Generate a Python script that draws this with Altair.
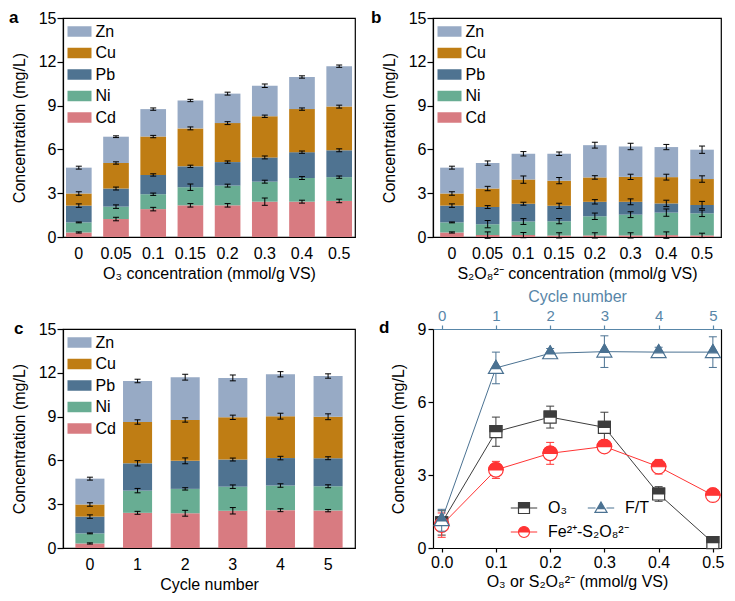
import altair as alt
import pandas as pd

FONT = "Liberation Sans"

# ---------------- stacked bar data (cumulative stack tops, mg/L) ----------------
METALS_LEGEND = ["Zn", "Cu", "Pb", "Ni", "Cd"]
METALS_STACK = ["Cd", "Ni", "Pb", "Cu", "Zn"]
METAL_COLORS = ["#97aac5", "#bf7d14", "#4f7391", "#68ad93", "#d87b81"]

# panel a : O3
a_cats = ["0", "0.05", "0.1", "0.15", "0.2", "0.3", "0.4", "0.5"]
a_Cd = [0.31, 1.23, 1.91, 2.17, 2.17, 2.42, 2.42, 2.47]
a_Ni = [1.00, 2.08, 2.93, 3.41, 3.52, 3.79, 4.04, 4.10]
a_Pb = [2.15, 3.32, 4.25, 4.84, 5.13, 5.45, 5.81, 5.94]
a_Cu = [2.98, 5.07, 6.88, 7.44, 7.80, 8.27, 8.76, 8.93]
a_Zn = [4.75, 6.87, 8.76, 9.35, 9.82, 10.36, 10.96, 11.70]
a_eCd = [0.04, 0.12, 0.12, 0.12, 0.12, 0.25, 0.10, 0.12]
a_eNi = [0.03, 0.12, 0.08, 0.22, 0.10, 0.10, 0.10, 0.08]
a_ePb = [0.12, 0.10, 0.08, 0.08, 0.08, 0.10, 0.08, 0.10]
a_eCu = [0.12, 0.08, 0.08, 0.10, 0.10, 0.08, 0.08, 0.10]
a_eZn = [0.10, 0.06, 0.08, 0.08, 0.10, 0.12, 0.08, 0.08]

# panel b : S2O8 2-
b_cats = ["0", "0.05", "0.1", "0.15", "0.2", "0.3", "0.4", "0.5"]
b_Cd = [0.31, 0.13, 0.13, 0.11, 0.11, 0.11, 0.13, 0.11]
b_Ni = [1.00, 0.88, 1.06, 1.08, 1.42, 1.53, 1.67, 1.62]
b_Pb = [2.15, 2.05, 2.28, 2.14, 2.41, 2.41, 2.30, 2.19]
b_Cu = [2.98, 3.32, 3.93, 3.86, 4.08, 4.12, 4.10, 3.97]
b_Zn = [4.75, 5.06, 5.70, 5.70, 6.29, 6.20, 6.16, 5.98]
b_eCd = [0.04, 0.22, 0.18, 0.18, 0.18, 0.18, 0.22, 0.15]
b_eNi = [0.03, 0.25, 0.20, 0.18, 0.22, 0.20, 0.25, 0.22]
b_ePb = [0.12, 0.10, 0.10, 0.18, 0.15, 0.20, 0.22, 0.25]
b_eCu = [0.12, 0.15, 0.25, 0.22, 0.12, 0.18, 0.20, 0.22]
b_eZn = [0.10, 0.15, 0.15, 0.12, 0.20, 0.22, 0.18, 0.25]

# panel c : F/T cycles
c_cats = ["0", "1", "2", "3", "4", "5"]
c_Cd = [0.31, 2.41, 2.38, 2.55, 2.59, 2.56]
c_Ni = [1.00, 3.93, 4.05, 4.20, 4.28, 4.23]
c_Pb = [2.15, 5.80, 5.97, 6.06, 6.16, 6.15]
c_Cu = [2.98, 8.63, 8.77, 8.95, 9.03, 8.99]
c_Zn = [4.75, 11.44, 11.70, 11.65, 11.90, 11.78]
c_eCd = [0.04, 0.10, 0.20, 0.22, 0.10, 0.08]
c_eNi = [0.03, 0.15, 0.08, 0.12, 0.12, 0.10]
c_ePb = [0.12, 0.18, 0.20, 0.10, 0.12, 0.10]
c_eCu = [0.12, 0.15, 0.15, 0.15, 0.20, 0.20]
c_eZn = [0.10, 0.12, 0.20, 0.20, 0.18, 0.15]

# ---------------- panel d line data ----------------
d_conc = [0.0, 0.1, 0.2, 0.3, 0.4, 0.5]
d_o3 = [1.03, 4.78, 5.38, 4.96, 2.22, 0.22]
d_o3_err = [0.50, 0.60, 0.45, 0.62, 0.30, 0.20]
d_fe = [0.94, 3.21, 3.89, 4.17, 3.34, 2.17]
d_fe_err = [0.50, 0.35, 0.45, 0.15, 0.30, 0.08]
d_cycle = [0, 1, 2, 3, 4, 5]
d_ft = [1.14, 7.40, 8.00, 8.07, 8.05, 8.05]
d_ft_err = [0.45, 0.65, 0.20, 0.65, 0.20, 0.63]

SERIES = ["O₃", "F/T", "Fe²⁺-S₂O₈²⁻"]
SER_COLORS = ["#3d3d3d", "#4b7292", "#ff3434"]
BLUE = "#5886a8"

# marker paths (unit coordinates)
SQ_FULL = "M-1,-1L1,-1L1,1L-1,1Z"
SQ_TOP = "M-1,-1L1,-1L1,0L-1,0Z"
SQ_BOT = "M-1,0L-1,1L1,1L1,0L1,1L-1,1Z"
TR_FULL = "M0,-1.1L1.1,0.8L-1.1,0.8Z"
TR_TOP = "M0,-1.1L0.695,0.1L-0.695,0.1Z"
TR_BOT = "M-0.695,0.1L-1.1,0.8L1.1,0.8L0.695,0.1L1.1,0.8L-1.1,0.8Z"
CI_FULL = "M-1,0A1,1,0,0,1,1,0A1,1,0,0,1,-1,0Z"
CI_TOP = "M-1,0A1,1,0,0,1,1,0Z"
CI_BOT = "M-1,0A1,1,0,0,0,1,0A1,1,0,0,1,-1,0Z"
STUBS = "M-2.4,0L-1,0M1,0L2.4,0"
LEG_SHAPES = [STUBS + SQ_TOP + SQ_BOT, STUBS + TR_TOP + TR_BOT, STUBS + CI_TOP + CI_BOT]


def bar_df(cats, tops, errs):
    rows = []
    for i, c in enumerate(cats):
        prev = 0.0
        for m in METALS_STACK:
            hi = tops[m][i]
            e = errs[m][i]
            rows.append(dict(cat=c, metal=m, lo=prev, hi=hi, elo=hi - e, ehi=hi + e))
            prev = hi
    return pd.DataFrame(rows)


def letter_layer(letter, lx, ly):
    return alt.Chart(pd.DataFrame({"t": [letter]})).mark_text(
        font=FONT, fontSize=17, fontWeight="bold", align="left", baseline="alphabetic", color="black"
    ).encode(x=alt.value(lx), y=alt.value(ly), text="t:N")


def bar_panel(df, cats, xtitle, w, h, pin, pout, letter, lx):
    xenc = alt.X("cat:N", sort=cats,
                 scale=alt.Scale(paddingInner=pin, paddingOuter=pout),
                 axis=alt.Axis(title=xtitle, labelAngle=0, ticks=False, labelPadding=8, titlePadding=4))
    yscale = alt.Scale(domain=[0, 15], nice=False, zero=False)
    yaxis = alt.Axis(values=[0, 3, 6, 9, 12, 15], title="Concentration (mg/L)",
                     tickSize=6, labelPadding=1, titlePadding=11)
    leg = alt.Legend(title=None, orient="none", legendX=8.5, legendY=5.5,
                     symbolType="M-1.6,-0.7L1.6,-0.7L1.6,0.7L-1.6,0.7Z", symbolSize=225,
                     symbolStrokeWidth=0, labelFont=FONT, labelFontSize=16, labelColor="black",
                     labelOffset=8, rowPadding=5.5, padding=0)
    base = alt.Chart(df)
    bars = base.mark_bar(opacity=1).encode(
        x=xenc,
        y=alt.Y("lo:Q", scale=yscale, axis=yaxis),
        y2="hi:Q",
        color=alt.Color("metal:N", scale=alt.Scale(domain=METALS_LEGEND, range=METAL_COLORS), legend=leg),
    )
    rules = base.mark_rule(color="black", strokeWidth=1).encode(
        x=xenc, y=alt.Y("elo:Q", scale=yscale, axis=yaxis), y2="ehi:Q")
    cap_lo = base.mark_tick(color="black", size=6, thickness=1, opacity=1).encode(
        x=xenc, y=alt.Y("elo:Q", scale=yscale, axis=yaxis))
    cap_hi = base.mark_tick(color="black", size=6, thickness=1, opacity=1).encode(
        x=xenc, y=alt.Y("ehi:Q", scale=yscale, axis=yaxis))
    return alt.layer(bars, rules, cap_lo, cap_hi, letter_layer(letter, lx, 5)).properties(width=w, height=h)


df_a = bar_df(a_cats, dict(Cd=a_Cd, Ni=a_Ni, Pb=a_Pb, Cu=a_Cu, Zn=a_Zn),
              dict(Cd=a_eCd, Ni=a_eNi, Pb=a_ePb, Cu=a_eCu, Zn=a_eZn))
df_b = bar_df(b_cats, dict(Cd=b_Cd, Ni=b_Ni, Pb=b_Pb, Cu=b_Cu, Zn=b_Zn),
              dict(Cd=b_eCd, Ni=b_eNi, Pb=b_ePb, Cu=b_eCu, Zn=b_eZn))
df_c = bar_df(c_cats, dict(Cd=c_Cd, Ni=c_Ni, Pb=c_Pb, Cu=c_Cu, Zn=c_Zn),
              dict(Cd=c_eCd, Ni=c_eNi, Pb=c_ePb, Cu=c_eCu, Zn=c_eZn))

W1, W2, H = 292, 288, 219

panel_a = bar_panel(df_a, a_cats, "O₃ concentration (mmol/g VS)", W1, H, 0.31, 0.08, "a", -54)
panel_b = bar_panel(df_b, b_cats, "S₂O₈²⁻ concentration (mmol/g VS)", W2, H, 0.34, 0.2, "b", -62)
panel_c = bar_panel(df_c, c_cats, "Cycle number", W1, H, 0.39, 0.26, "c", -49)

# ---------------- panel d ----------------
ydom = alt.Scale(domain=[0, 9], nice=False, zero=False)
yaxis_left = alt.Axis(values=[0, 3, 6, 9], title="Concentration (mg/L)", tickSize=5,
                      labelPadding=2, titlePadding=11)
yaxis_right = alt.Axis(orient="right", labels=False, ticks=False, title=None, domainColor="black")

xb_enc = alt.X("x:Q", scale=alt.Scale(domain=[-0.016, 0.515], nice=False, zero=False),
               axis=alt.Axis(values=d_conc, format=".1f", title="O₃ or S₂O₈²⁻ (mmol/g VS)",
                             tickSize=4, labelPadding=2, titlePadding=3))
xt_enc = alt.X("x:Q", scale=alt.Scale(domain=[-0.16, 5.15], nice=False, zero=False),
               axis=alt.Axis(orient="top", values=d_cycle, format="d", title="Cycle number",
                             domainColor=BLUE, tickColor=BLUE, labelColor=BLUE, titleColor=BLUE,
                             labelFontSize=15, tickSize=4, labelPadding=2, titlePadding=4))


def series_layers(xs, ys, es, xenc, yaxis, color, full, top, size):
    df = pd.DataFrame({"x": xs, "y": ys, "lo": [y - e for y, e in zip(ys, es)],
                       "hi": [y + e for y, e in zip(ys, es)]})
    base = alt.Chart(df)
    yenc = alt.Y("y:Q", scale=ydom, axis=yaxis)
    line = base.mark_line(color=color, strokeWidth=1).encode(x=xenc, y=yenc)
    rule = base.mark_rule(color=color, strokeWidth=1).encode(
        x=xenc, y=alt.Y("lo:Q", scale=ydom, axis=yaxis), y2="hi:Q")
    cap_lo = base.mark_tick(color=color, orient="horizontal", size=8, thickness=1, opacity=1).encode(
        x=xenc, y=alt.Y("lo:Q", scale=ydom, axis=yaxis))
    cap_hi = base.mark_tick(color=color, orient="horizontal", size=8, thickness=1, opacity=1).encode(
        x=xenc, y=alt.Y("hi:Q", scale=ydom, axis=yaxis))
    bg = base.mark_point(shape=full, size=size, filled=True, fill="white", stroke=color,
                         strokeWidth=1.2, opacity=1).encode(x=xenc, y=yenc)
    fg = base.mark_point(shape=top, size=size, filled=True, fill=color, stroke=color,
                         strokeWidth=1.2, opacity=1).encode(x=xenc, y=yenc)
    return [line, rule, cap_lo, cap_hi, bg, fg]


bottom_layers = (series_layers(d_conc, d_o3, d_o3_err, xb_enc, yaxis_left, SER_COLORS[0], SQ_FULL, SQ_TOP, 144)
                 + series_layers(d_conc, d_fe, d_fe_err, xb_enc, yaxis_left, SER_COLORS[2], CI_FULL, CI_TOP, 210))
top_layers = series_layers(d_cycle, d_ft, d_ft_err, xt_enc, yaxis_right, SER_COLORS[1], TR_FULL, TR_TOP, 185)

d_bottom = alt.layer(*bottom_layers)
d_top = alt.layer(*top_layers)

# legend row 1: O3 and F/T
leg_common = dict(title=None, orient="none", symbolSize=121, symbolStrokeWidth=1.2, symbolOpacity=1,
                  labelFont=FONT, labelFontSize=16, labelColor="black", labelOffset=16, padding=0)
leg_d1 = alt.Legend(legendX=83, legendY=171, direction="horizontal", columnPadding=18, **leg_common)
leg_scale1 = alt.Scale(domain=SERIES[:2], range=SER_COLORS[:2])
legend_layer1 = alt.Chart(pd.DataFrame({"series": SERIES[:2]})).mark_point(opacity=0, filled=True).encode(
    x=alt.value(0), y=alt.value(0),
    fill=alt.Fill("series:N", scale=leg_scale1, legend=leg_d1),
    stroke=alt.Stroke("series:N", scale=leg_scale1, legend=leg_d1),
    shape=alt.Shape("series:N", scale=alt.Scale(domain=SERIES[:2], range=LEG_SHAPES[:2]), legend=leg_d1),
)
# legend row 2: Fe2+-S2O8 2-
leg_d2 = alt.Legend(legendX=83, legendY=195, symbolType=LEG_SHAPES[2], symbolStrokeColor=SER_COLORS[2],
                    symbolFillColor=SER_COLORS[2], **leg_common)
legend_layer2 = alt.Chart(pd.DataFrame({"series": SERIES[2:]})).mark_point(opacity=0, filled=True).encode(
    x=alt.value(0), y=alt.value(0),
    color=alt.Color("series:N", scale=alt.Scale(domain=SERIES[2:], range=SER_COLORS[2:]), legend=leg_d2),
)

panel_d = (
    alt.layer(d_bottom, d_top, legend_layer1, legend_layer2, letter_layer("d", -54, 4))
    .resolve_scale(x="independent")
    .resolve_axis(x="independent", y="independent")
    .properties(width=W2, height=H, view=alt.ViewBackground(stroke="transparent"))
)

chart = (
    alt.ConcatChart(
        concat=[panel_a, panel_b, panel_c, panel_d],
        columns=2,
        spacing=alt.RowColnumber(row=92, column=78),
        bounds="flush",
    )
    .resolve_scale(color="independent", fill="independent", stroke="independent", shape="independent")
    .resolve_legend(color="independent", fill="independent", stroke="independent", shape="independent")
    .properties(padding=0, background="white")
    .configure_view(stroke="black", strokeWidth=1.2)
    .configure_axis(labelFont=FONT, titleFont=FONT, labelFontSize=16, titleFontSize=16,
                    titleFontWeight="normal", labelColor="black", titleColor="black",
                    domainColor="black", tickColor="black", domainWidth=1.2, tickWidth=1.2,
                    grid=False)
)

chart.save("out.html", embed_options={"renderer": "svg", "actions": False})
